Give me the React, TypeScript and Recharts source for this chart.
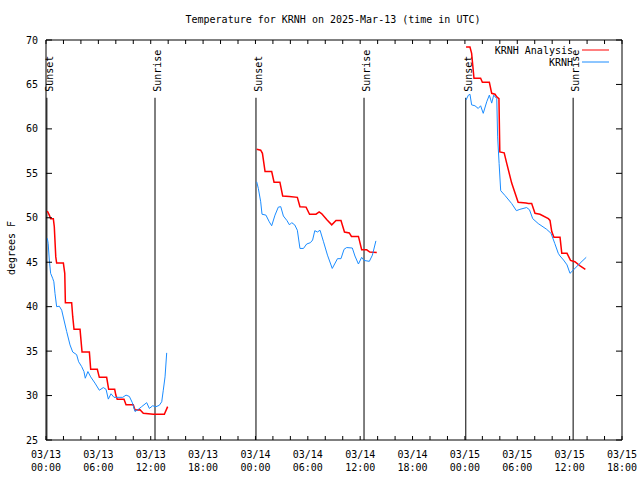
import { Line, LineChart, ReferenceLine, XAxis, YAxis } from "recharts";

const FONT = "'DejaVu Sans Mono', monospace";
const RED = "#ff0000";
const BLUE = "#1a8cff";

type Pt = [number, number]; // [hours since 03/13 00:00 UTC, degrees F]

const analysisNight1: Pt[] = [
  [0.15, 50.76], [0.38, 50.3], [0.54, 49.9], [0.84, 49.9], [0.95, 49.0], [1.12, 45.6], [1.22, 44.9],
  [1.99, 44.9], [2.15, 43.75], [2.22, 40.45], [2.94, 40.45], [3.06, 38.9], [3.21, 37.45], [3.9, 37.45],
  [4.13, 34.9], [4.97, 34.9], [5.12, 32.95], [5.88, 32.95], [6.11, 32.05], [6.95, 32.05], [7.18, 30.7],
  [7.87, 30.7], [8.0, 30.06], [8.16, 29.58], [8.94, 29.58], [9.17, 28.97], [10.0, 28.97], [10.2, 28.37],
  [10.77, 28.4], [11.15, 28.0], [12.3, 27.9], [13.56, 27.9], [13.94, 28.75],
];
const obsNight1: Pt[] = [
  [0.15, 47.7], [0.25, 47.1], [0.38, 45.25], [0.53, 43.75], [0.76, 43.2], [0.9, 42.8], [1.03, 41.5],
  [1.22, 40.0], [1.53, 40.05], [1.8, 39.6], [2.06, 38.5], [2.37, 37.2], [2.75, 35.7], [3.06, 34.9],
  [3.51, 34.6], [3.74, 33.8], [4.09, 33.25], [4.35, 32.7], [4.5, 31.95], [4.8, 32.7], [5.12, 32.1],
  [5.61, 31.4], [6.11, 30.6], [6.57, 30.9], [6.88, 30.7], [7.14, 29.6], [7.45, 30.2], [7.79, 29.8],
  [8.79, 29.8], [9.17, 30.05], [9.55, 29.9], [9.89, 29.2], [10.2, 28.2], [10.58, 28.45], [10.96, 28.75],
  [11.54, 29.2], [11.84, 28.55], [12.22, 28.85], [12.6, 28.75], [12.98, 28.9], [13.26, 29.3],
  [13.44, 30.6], [13.64, 32.1], [13.83, 34.8],
];
const analysisNight2: Pt[] = [
  [24.14, 57.7], [24.6, 57.6], [24.8, 57.25], [25.1, 55.2], [25.86, 55.2], [26.13, 54.0], [26.8, 54.0],
  [27.12, 52.45], [27.88, 52.4], [28.8, 52.3], [29.1, 51.25], [29.8, 51.2], [30.2, 50.4], [30.94, 50.4],
  [31.3, 50.65], [31.6, 50.45], [32.16, 49.8], [32.74, 49.2], [33.23, 49.7], [33.8, 49.7], [34.2, 48.4],
  [34.75, 48.3], [35.0, 47.9], [35.8, 47.9], [36.17, 46.4], [36.75, 46.4], [37.1, 46.15], [37.9, 46.1],
];
const obsNight2: Pt[] = [
  [24.14, 54.05], [24.33, 53.3], [24.6, 51.8], [24.75, 50.4], [25.2, 50.3], [25.58, 49.55], [25.86, 49.1],
  [26.24, 50.3], [26.62, 51.2], [26.9, 51.25], [27.2, 50.2], [27.6, 49.7], [27.9, 49.2], [28.15, 49.45],
  [28.5, 49.2], [28.8, 48.6], [29.1, 46.55], [29.5, 46.55], [29.87, 47.05], [30.3, 47.2], [30.55, 47.5],
  [30.8, 48.55], [31.1, 48.4], [31.4, 48.6], [31.8, 47.3], [32.25, 45.8], [32.8, 44.3], [33.4, 45.4],
  [33.8, 45.4], [34.15, 46.45], [34.45, 46.65], [35.1, 46.6], [35.4, 45.7], [35.8, 44.8], [36.17, 45.55],
  [36.44, 45.2], [37.05, 45.1], [37.4, 45.8], [37.8, 47.4],
];
const analysisNight3: Pt[] = [
  [48.13, 69.2], [48.58, 69.2], [48.77, 68.5], [49.04, 65.7], [49.8, 65.7], [50.0, 65.25], [50.8, 65.25],
  [51.07, 64.0], [51.45, 63.9], [51.65, 63.6], [51.9, 63.4], [52.0, 57.4], [52.5, 57.3], [52.8, 56.1],
  [53.36, 53.9], [54.1, 51.75], [55.0, 51.65], [55.27, 51.6], [55.65, 51.6], [56.03, 50.5], [56.6, 50.4],
  [57.56, 49.9], [57.75, 49.7], [57.95, 48.45], [58.2, 47.8], [58.9, 47.8], [59.1, 46.0], [59.7, 46.0],
  [60.1, 45.2], [60.6, 45.05], [61.2, 44.6], [61.8, 44.2],
];
const obsNight3: Pt[] = [
  [48.13, 63.25], [48.4, 63.8], [48.58, 63.9], [48.77, 62.7], [49.15, 62.6], [49.53, 62.3], [49.8, 62.6],
  [50.1, 61.75], [50.5, 63.05], [50.8, 63.8], [51.07, 62.9], [51.3, 63.8], [51.65, 63.4], [51.75, 59.1],
  [51.92, 56.1], [52.1, 53.05], [52.6, 52.5], [53.36, 51.6], [53.9, 50.8], [54.3, 50.95], [55.07, 51.15],
  [55.4, 50.9], [55.77, 49.9], [56.4, 49.35], [57.37, 48.7], [57.87, 48.25], [58.3, 47.1], [58.7, 46.0],
  [58.9, 45.7], [59.3, 45.25], [59.7, 44.7], [60.04, 43.75], [60.4, 44.1], [61.2, 44.9], [61.9, 45.55],
];

const sunsetHours = [0.1, 24.06, 48.1];
const sunriseHours = [12.49, 36.44, 60.4];
const sunLineTop = 63.5;

const xTicks = Array.from({ length: 34 }, (_, i) => i * 2);
const xLabelDates = ["03/13", "03/13", "03/13", "03/13", "03/14", "03/14", "03/14", "03/14", "03/15", "03/15", "03/15", "03/15"];
const xLabelTimes = ["00:00", "06:00", "12:00", "18:00", "00:00", "06:00", "12:00", "18:00", "00:00", "06:00", "12:00", "18:00"];
const yTicks = [25, 30, 35, 40, 45, 50, 55, 60, 65, 70];

const rows = (pts: Pt[]) => pts.map(([t, v]) => ({ t, v }));

function BottomTick({ x, y, payload }: any) {
  const i = payload.value / 6;
  const labelled = Number.isInteger(i);
  return (
    <g>
      <line x1={x} x2={x} y1={y} y2={y - 4} stroke="#000" />
      {labelled && (
        <text x={x} textAnchor="middle" fontFamily={FONT} fontSize={10} fill="#000">
          <tspan x={x} y={y + 18}>{xLabelDates[i]}</tspan>
          <tspan x={x} y={y + 31}>{xLabelTimes[i]}</tspan>
        </text>
      )}
    </g>
  );
}

const TopTick = ({ x, y }: any) => <line x1={x} x2={x} y1={y} y2={y + 4} stroke="#000" />;

function LeftTick({ x, y, payload }: any) {
  return (
    <g>
      <line x1={x} x2={x + 6} y1={y} y2={y} stroke="#000" />
      <text x={x - 8} y={y} textAnchor="end" dominantBaseline="central" fontFamily={FONT} fontSize={10} fill="#000">
        {payload.value}
      </text>
    </g>
  );
}

const RightTick = ({ x, y }: any) => <line x1={x} x2={x - 6} y1={y} y2={y} stroke="#000" />;

function SunLabel({ viewBox, text }: any) {
  const x = viewBox.x + 2.5;
  const y = viewBox.y - 6;
  return (
    <text
      x={x}
      y={y}
      transform={`rotate(-90 ${x} ${y})`}
      textAnchor="start"
      dominantBaseline="central"
      fontFamily={FONT}
      fontSize={10}
      fill="#000"
    >
      {text}
    </text>
  );
}

function YLabel({ viewBox }: any) {
  const x = viewBox.x + 11;
  const y = viewBox.y + viewBox.height / 2 + 8;
  return (
    <text x={x} y={y} transform={`rotate(-90 ${x} ${y})`} textAnchor="middle" dominantBaseline="central" fontFamily={FONT} fontSize={10}>
      degrees F
    </text>
  );
}

const legendItems = [
  { name: "KRNH Analysis", color: RED },
  { name: "KRNH", color: BLUE },
];

export default function App() {
  const night = (pts: Pt[], color: string, w: number, key: string) => (
    <Line
      key={key}
      data={rows(pts)}
      dataKey="v"
      type="linear"
      stroke={color}
      strokeWidth={w}
      dot={false}
      activeDot={false}
      isAnimationActive={false}
    />
  );
  return (
    <div style={{ position: "absolute", left: 0, top: 0, width: 640, height: 480, background: "#fff" }}>
      <div
        style={{
          position: "absolute",
          left: 13,
          width: 640,
          top: 13,
          textAlign: "center",
          fontFamily: FONT,
          fontSize: 10,
          lineHeight: "14px",
        }}
      >
        Temperature for KRNH on 2025-Mar-13 (time in UTC)
      </div>
      <LineChart width={640} height={480} margin={{ top: 39, right: 17, bottom: 0, left: 0 }}>
        <XAxis
          dataKey="t"
          type="number"
          domain={[0, 66]}
          ticks={xTicks}
          interval={0}
          height={40}
          tickSize={0}
          tickMargin={0}
          tickLine={false}
          axisLine={{ stroke: "#000" }}
          tick={BottomTick}
          allowDataOverflow
        />
        <XAxis
          xAxisId="top"
          orientation="top"
          dataKey="t"
          type="number"
          domain={[0, 66]}
          ticks={xTicks}
          interval={0}
          height={1}
          tickSize={0}
          tickMargin={0}
          tickLine={false}
          axisLine={{ stroke: "#000" }}
          tick={TopTick}
          allowDataOverflow
        />
        <YAxis
          type="number"
          domain={[25, 70]}
          ticks={yTicks}
          interval={0}
          width={46}
          tickSize={0}
          tickMargin={0}
          tickLine={false}
          axisLine={{ stroke: "#000" }}
          tick={LeftTick}
          label={<YLabel />}
          allowDataOverflow
        />
        <YAxis
          yAxisId="right"
          orientation="right"
          type="number"
          domain={[25, 70]}
          ticks={yTicks}
          interval={0}
          width={1}
          tickSize={0}
          tickMargin={0}
          tickLine={false}
          axisLine={{ stroke: "#000" }}
          tick={RightTick}
          allowDataOverflow
        />
        {sunsetHours.map((h) => (
          <ReferenceLine
            key={"ss" + h}
            segment={[{ x: h, y: 25 }, { x: h, y: sunLineTop }]}
            stroke="#000"
            strokeWidth={1}
            label={<SunLabel text="Sunset" />}
          />
        ))}
        {sunriseHours.map((h) => (
          <ReferenceLine
            key={"sr" + h}
            segment={[{ x: h, y: 25 }, { x: h, y: sunLineTop }]}
            stroke="#000"
            strokeWidth={1}
            label={<SunLabel text="Sunrise" />}
          />
        ))}
        {night(analysisNight1, RED, 1.5, "a1")}
        {night(analysisNight2, RED, 1.5, "a2")}
        {night(analysisNight3, RED, 1.5, "a3")}
        {night(obsNight1, BLUE, 1, "o1")}
        {night(obsNight2, BLUE, 1, "o2")}
        {night(obsNight3, BLUE, 1, "o3")}
      </LineChart>
      <div style={{ position: "absolute", right: 31, top: 44, fontFamily: FONT, fontSize: 10 }}>
        {legendItems.map((it) => (
          <div key={it.name} style={{ display: "flex", justifyContent: "flex-end", alignItems: "center", height: 12 }}>
            <span>{it.name}</span>
            <svg width={27} height={12} style={{ marginLeft: 9 }}>
              <line x1={0} x2={27} y1={6} y2={6} stroke={it.color} strokeWidth={1} />
            </svg>
          </div>
        ))}
      </div>
    </div>
  );
}
